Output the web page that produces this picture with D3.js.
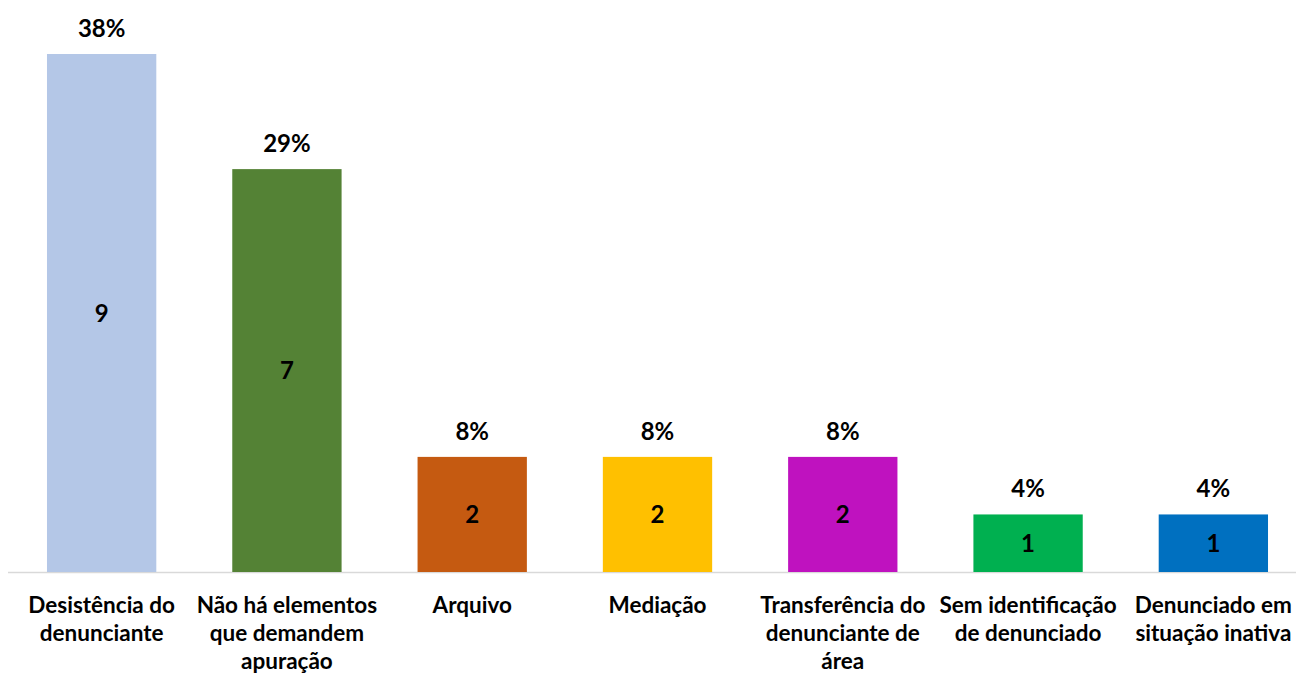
<!DOCTYPE html>
<html lang="pt">
<head>
  <meta charset="UTF-8">
  <title>Motivos de arquivamento</title>
  <script src="https://d3js.org/d3.v7.min.js"></script>
  <style>
    body { margin: 0; background: #fff; }
    text { font-family: Lato, "Open Sans", sans-serif; font-weight: bold; fill: #000; }
    .cat { font-size: 22.5px; }
    .pct { font-size: 24px; }
    .val { font-size: 24px; }
  </style>
</head>
<body>
  <svg></svg>
  <script>
    // categories (line breaks as in the chart)
    const categories = [
      ["Desistência do", "denunciante"],
      ["Não há elementos", "que demandem", "apuração"],
      ["Arquivo"],
      ["Mediação"],
      ["Transferência do", "denunciante de", "área"],
      ["Sem identificação", "de denunciado"],
      ["Denunciado em", "situação inativa"]
    ];
    const counts = [9, 7, 2, 2, 2, 1, 1];
    const percents = ["38%", "29%", "8%", "8%", "8%", "4%", "4%"];
    const colors = ["#B4C7E7", "#548235", "#C55A11", "#FFC000", "#BF12BF", "#00B050", "#0070C0"];

    const width = 1296, height = 675;
    const baseY = 572;
    const svg = d3.select("svg").attr("width", width).attr("height", height);

    const x = d3.scaleBand().domain(d3.range(categories.length)).range([9, 1306]).paddingInner(0.41).paddingOuter(0.205);
    const y = d3.scaleLinear().domain([0, 9]).range([baseY, 54]);

    svg.append("line")
      .attr("x1", 8).attr("x2", width).attr("y1", baseY + 0.5).attr("y2", baseY + 0.5)
      .attr("stroke", "#D9D9D9").attr("stroke-width", 1.5);

    const g = svg.selectAll(".bar").data(counts).enter().append("g");

    g.append("rect")
      .attr("x", (d, i) => x(i))
      .attr("y", d => y(d))
      .attr("width", x.bandwidth())
      .attr("height", d => baseY - y(d))
      .attr("fill", (d, i) => colors[i]);

    g.append("text").attr("class", "val")
      .attr("x", (d, i) => x(i) + x.bandwidth() / 2)
      .attr("y", d => (y(d) + baseY) / 2)
      .attr("dy", "0.36em")
      .attr("text-anchor", "middle")
      .text(d => d);

    g.append("text").attr("class", "pct")
      .attr("x", (d, i) => x(i) + x.bandwidth() / 2)
      .attr("y", d => y(d) - 17)
      .attr("text-anchor", "middle")
      .text((d, i) => percents[i]);

    const labels = svg.selectAll(".cat").data(categories).enter().append("text")
      .attr("class", "cat")
      .attr("text-anchor", "middle")
      .attr("x", (d, i) => x(i) + x.bandwidth() / 2)
      .attr("y", 613);
    labels.selectAll("tspan").data(d => d).enter().append("tspan")
      .attr("x", function () { return this.parentNode.getAttribute("x"); })
      .attr("dy", (d, j) => j === 0 ? 0 : 28)
      .text(d => d);
  </script>
</body>
</html>
